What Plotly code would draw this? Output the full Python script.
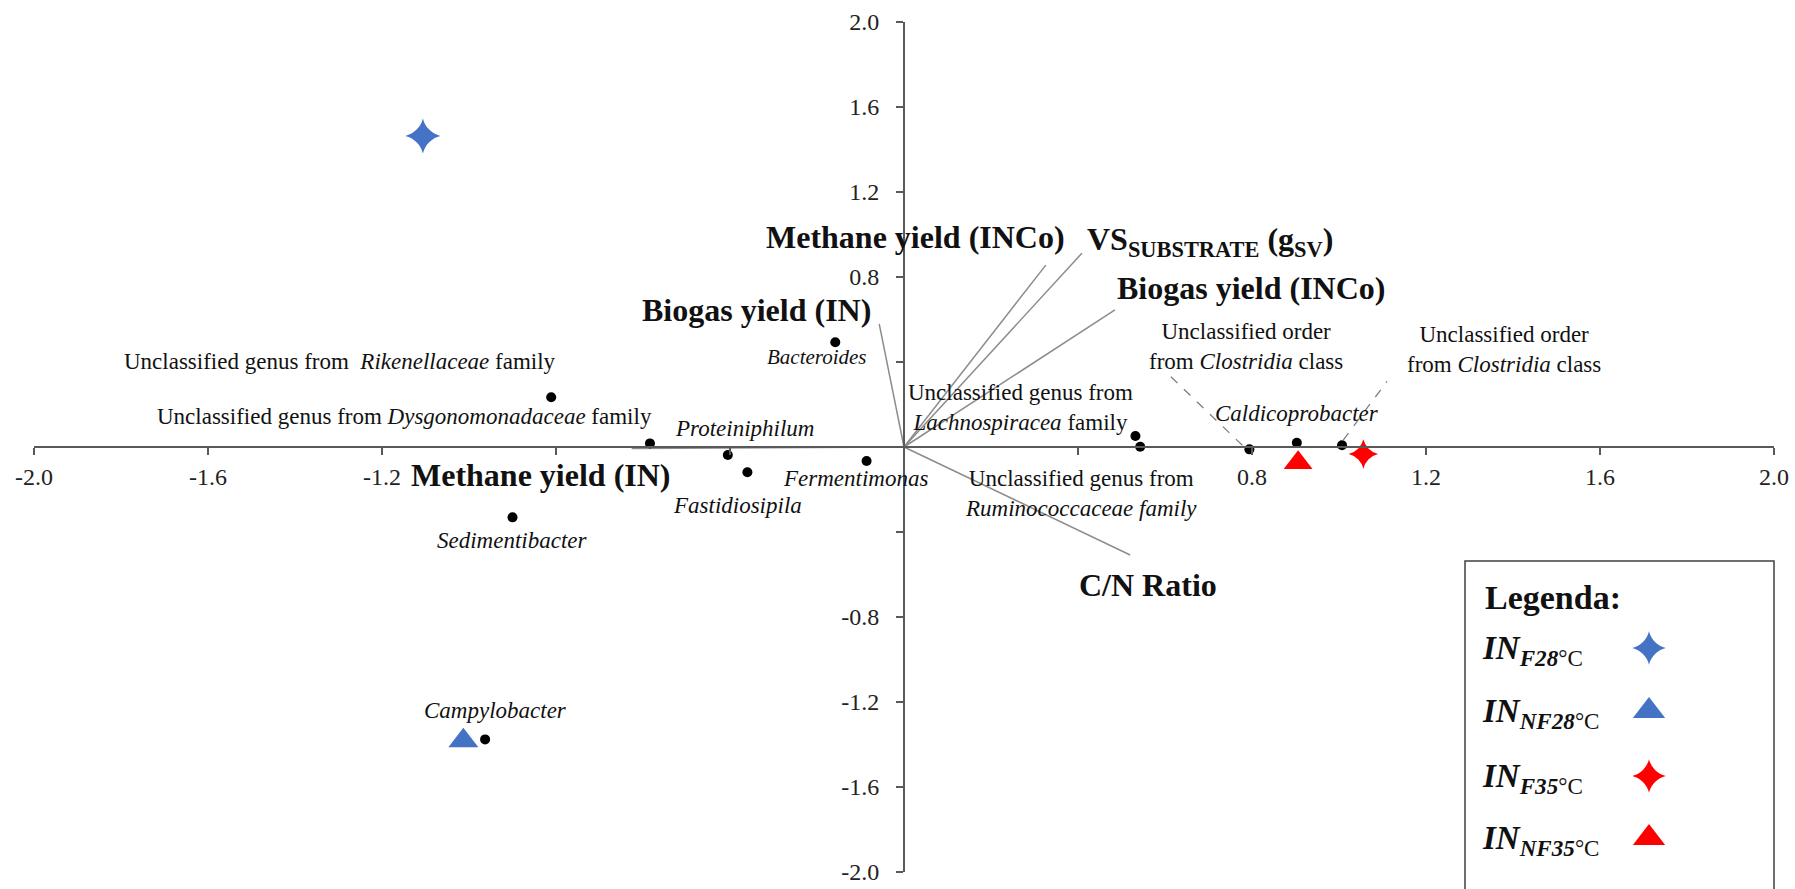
import plotly.graph_objects as go

# ---------------- data ----------------
# genera (black dots)
genus_labels = [
    "Unclassified genus from  <i>Rikenellaceae</i> family",
    "Unclassified genus from <i>Dysgonomonadaceae</i> family",
    "<i>Proteiniphilum</i>",
    "<i>Fastidiosipila</i>",
    "<i>Fermentimonas</i>",
    "<i>Bacteroides</i>",
    "<i>Sedimentibacter</i>",
    "<i>Campylobacter</i>",
    "Unclassified genus from<br><i>Lachnospiracea</i> family",
    "Unclassified genus from<br><i>Ruminococcaceae family</i>",
    "Unclassified order<br>from <i>Clostridia</i> class",
    "<i>Caldicoprobacter</i>",
    "Unclassified order<br>from <i>Clostridia</i> class",
]
genus_x = [-0.811, -0.584, -0.405, -0.360, -0.086, -0.158, -0.900, -0.963,
           0.532, 0.543, 0.794, 0.903, 1.007]
genus_y = [0.234, 0.017, -0.038, -0.119, -0.066, 0.493, -0.331, -1.376,
           0.052, 0.001, -0.011, 0.020, 0.008]

# environmental / process vectors
vector_labels = [
    "Methane yield (IN)",
    "Biogas yield (IN)",
    "Methane yield (INCo)",
    "VS<sub>SUBSTRATE</sub> (g<sub>SV</sub>)",
    "Biogas yield (INCo)",
    "C/N Ratio",
]
vector_x = [-0.626, -0.057, 0.326, 0.409, 0.485, 0.520]
vector_y = [-0.007, 0.579, 0.856, 0.912, 0.645, -0.508]

# samples
sample_codes = ["F28", "NF28", "F35", "NF35"]
sample_temps = ["°C", "°C", "°C", "°C"]
sample_x = [-1.106, -1.013, 1.056, 0.906]
sample_y = [1.464, -1.382, -0.033, -0.074]

# axis ticks (all tick marks, and the labelled ones)
all_ticks = [-2.0, -1.6, -1.2, -0.8, -0.4, 0.4, 0.8, 1.2, 1.6, 2.0]
x_label_vals = [-2.0, -1.6, -1.2, 0.8, 1.2, 1.6, 2.0]
x_label_text = ["-2.0", "-1.6", "-1.2", "0.8", "1.2", "1.6", "2.0"]
y_label_vals = [-2.0, -1.6, -1.2, -0.8, 0.8, 1.2, 1.6, 2.0]
y_label_text = ["-2.0", "-1.6", "-1.2", "-0.8", "0.8", "1.2", "1.6", "2.0"]

# ---------------- styles / placement ----------------
FONT = "Liberation Serif, Times New Roman, serif"
TXT = "#111111"
AX = "#595959"
sample_colors = ["#4472C4", "#4472C4", "#FF0000", "#FF0000"]
sample_symbols = ["star-diamond", "triangle-up", "star-diamond", "triangle-up"]
sample_sizes = [25, 26, 21, 25]

# (xshift, yshift, xanchor, fontsize) for each genus label
genus_place = [
    (7, 36, "right", 23), (4, 27, "right", 23), (17, 27, "center", 23),
    (-10, -33, "center", 23), (-11, -17, "center", 23), (-18, -15, "center", 21),
    (0, -23, "center", 23), (10, 29, "center", 23), (-115, 28, "center", 23),
    (-59, -47, "center", 23), (-3, 103, "center", 23), (0, 29, "center", 23),
    (162, 96, "center", 23),
]
vector_place = [
    (-91, -27, "center"), (-123, 14, "center"), (-130, 28, "center"),
    (3, 12, "left"), (0, 22, "left"), (18, -30, "center"),
]
# dashed leaders (pixel offsets from the point) for the two Clostridia labels
leaders = {10: (-7, 4, -80, 74), 12: (1, 5, 45, 64)}

W, H = 1795, 889
ML, MR, MT, MB = 34, 21, 22, 17

def px_to_paper(px, py):
    return (px - ML) / (W - ML - MR), (H - MB - py) / (H - MT - MB)

fig = go.Figure()

# vectors from origin
vx, vy = [], []
for x, y in zip(vector_x, vector_y):
    vx += [0, x, None]
    vy += [0, y, None]
fig.add_trace(go.Scatter(x=vx, y=vy, mode="lines",
                         line=dict(color="#8c8c8c", width=1.5),
                         hoverinfo="skip", showlegend=False))

# genera dots
fig.add_trace(go.Scatter(x=genus_x, y=genus_y, mode="markers",
                         marker=dict(color="black", size=10, opacity=1),
                         showlegend=False))

# samples
for i in range(len(sample_codes)):
    fig.add_trace(go.Scatter(
        x=[sample_x[i]], y=[sample_y[i]], mode="markers",
        marker=dict(color=sample_colors[i], symbol=sample_symbols[i],
                    size=sample_sizes[i], opacity=1, line=dict(width=0)),
        name="IN " + sample_codes[i] + sample_temps[i], showlegend=False))

annotations = []
for i, lab in enumerate(genus_labels):
    xs, ys, xa, fs = genus_place[i]
    annotations.append(dict(x=genus_x[i], y=genus_y[i], xref="x", yref="y",
                            text=lab, showarrow=False, xshift=xs, yshift=ys,
                            xanchor=xa, yanchor="middle",
                            font=dict(family=FONT, size=fs, color=TXT)))
for i, lab in enumerate(vector_labels):
    xs, ys, xa = vector_place[i]
    annotations.append(dict(x=vector_x[i], y=vector_y[i], xref="x", yref="y",
                            text="<b>" + lab + "</b>", showarrow=False,
                            xshift=xs, yshift=ys, xanchor=xa, yanchor="middle",
                            font=dict(family=FONT, size=32, color=TXT)))

shapes = []
for idx, (x0, y0, x1, y1) in leaders.items():
    shapes.append(dict(type="line", xref="x", yref="y",
                       xsizemode="pixel", ysizemode="pixel",
                       xanchor=genus_x[idx], yanchor=genus_y[idx],
                       x0=x0, y0=y0, x1=x1, y1=y1,
                       line=dict(color="#808080", width=1.3, dash="dash")))

# legend box
bx0, by0 = px_to_paper(1465, 561)
bx1, by1 = px_to_paper(1774, 900)
shapes.append(dict(type="rect", xref="paper", yref="paper",
                   x0=bx0, y0=by1, x1=bx1, y1=by0,
                   line=dict(color="#404040", width=1.5), fillcolor="white",
                   layer="below"))
lx, ly = px_to_paper(1483, 597)
annotations.append(dict(x=lx, y=ly, xref="paper", yref="paper",
                        text="<b>Legenda:</b>", showarrow=False,
                        xanchor="left", yanchor="middle",
                        font=dict(family=FONT, size=34, color=TXT)))
row_px = [648, 711, 776, 838]
mk_x, mk_y = [], []
for i, code in enumerate(sample_codes):
    tx, ty = px_to_paper(1480, row_px[i] + 2)
    annotations.append(dict(
        x=tx, y=ty, xref="paper", yref="paper",
        text="<b><i>IN</i></b><sub><b><i>" + code + "</i></b>" + sample_temps[i] + "</sub>",
        showarrow=False, xanchor="left", yanchor="middle",
        font=dict(family=FONT, size=33, color=TXT)))
    mx, my = px_to_paper(1649, row_px[i])
    mk_x.append(mx)
    mk_y.append(my)
legend_sizes = [24, 28, 24, 28]
for i in range(len(sample_codes)):
    fig.add_trace(go.Scatter(x=[mk_x[i]], y=[mk_y[i]], xaxis="x2", yaxis="y2",
                             mode="markers",
                             marker=dict(color=sample_colors[i],
                                         symbol=sample_symbols[i],
                                         size=legend_sizes[i], opacity=1,
                                         line=dict(width=0)),
                             showlegend=False, hoverinfo="skip"))

axis_common = dict(range=[-2, 2], showgrid=False, zeroline=False,
                   showline=True, linecolor=AX, linewidth=2,
                   ticks="outside", ticklen=7, tickwidth=2, tickcolor=AX,
                   tickmode="array", anchor="free", position=0.5,
                   automargin=False,
                   minor=dict(tickmode="array", tickvals=all_ticks,
                              ticks="outside", ticklen=7, tickwidth=2,
                              tickcolor=AX, showgrid=False),
                   tickfont=dict(family=FONT, size=24, color="#222222"))

fig.update_layout(
    width=W, height=H,
    margin=dict(l=ML, r=MR, t=MT, b=MB, pad=0),
    paper_bgcolor="white", plot_bgcolor="rgba(0,0,0,0)",
    showlegend=False,
    xaxis=dict(axis_common, tickvals=x_label_vals, ticktext=x_label_text,
               ticklabelstandoff=1),
    yaxis=dict(axis_common, tickvals=y_label_vals, ticktext=y_label_text,
               ticklabelstandoff=12),
    xaxis2=dict(domain=[0, 1], range=[0, 1], overlaying="x", anchor="y2",
                visible=False, fixedrange=True),
    yaxis2=dict(domain=[0, 1], range=[0, 1], overlaying="y", anchor="x2",
                visible=False, fixedrange=True),
    annotations=annotations,
    shapes=shapes,
)

fig.write_html("out.html")
